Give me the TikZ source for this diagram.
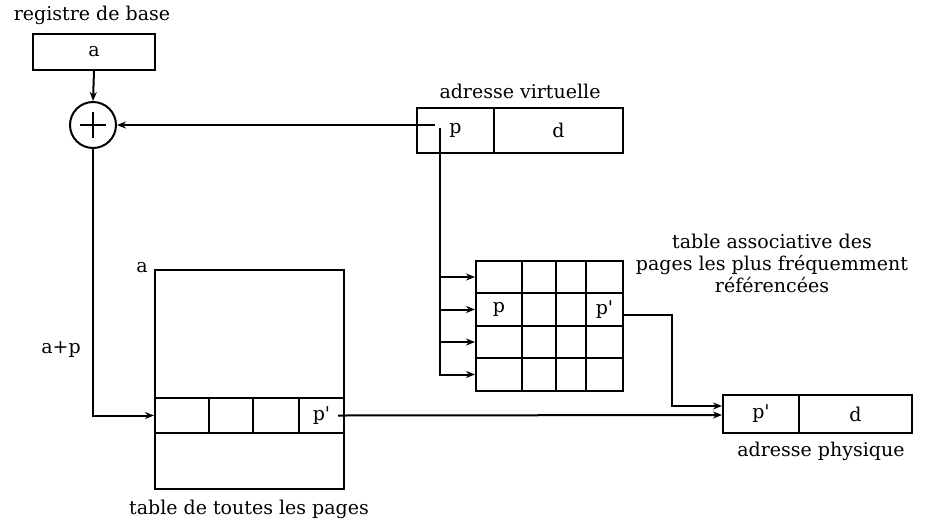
\documentclass[tikz,border=0pt]{standalone}
\usepackage{fontspec}
\setmainfont{DejaVu Serif}
\usetikzlibrary{arrows.meta,calc}
\begin{document}
\begin{tikzpicture}[x=1pt,y=-1pt,
  lw/.style={line width=2pt},
  arr/.style={line width=2pt,-{Stealth[length=9pt,width=7pt]}},
  cell/.style={draw,line width=2pt,rectangle,inner sep=0pt},
  txt/.style={inner sep=0pt,font=\fontsize{19}{22}\selectfont}]
\useasboundingbox (0,0) rectangle (936,523);
% base register
\node[txt] (lrb) at (92,15) {registre de base};
\node[cell,txt,minimum width=122pt,minimum height=36pt] (rb) at (94,52) {a};
\node[draw,lw,circle,minimum size=46pt,inner sep=0pt] (plus) at (93,125) {};
\draw[lw] ($(plus.center)+(-13,0)$) -- ($(plus.center)+(13,0)$);
\draw[lw] ($(plus.center)+(0,-13)$) -- ($(plus.center)+(0,13)$);
\draw[arr] (rb.south) -- (plus.north);
% virtual address
\node[txt] (lva) at (520,91) {adresse virtuelle};
\node[cell,txt,minimum width=77pt,minimum height=45pt] (vp) at (455.5,130.5) {p};
\node[cell,txt,minimum width=129pt,minimum height=45pt] (vd) at (558.5,130.5) {d};
\coordinate (vpH) at (435,125);
\coordinate (vpV) at (440,128);
\draw[arr] (vpH) -- (plus.east);
% associative table
\foreach \c/\cx/\w in {1/499/46,2/539/34,3/571/30,4/604.5/37}
  \foreach \r/\cy in {1/277,2/309.5,3/342,4/374.5}
    \node[cell,minimum width=\w pt,minimum height=32.5pt] (a\r\c) at (\cx,\cy) {};
\node[txt] (ap) at (a21.center) {p};
\node[txt] (apq) at (a24.center) {p\textquotesingle};
\foreach \r in {1,2,3}
  \draw[arr] (vpV |- a\r1.west) -- (a\r1.west);
\draw[arr] (vpV) |- (a41.west);
\node[txt,align=center] (lat) at (772,263) {table associative des\\pages les plus fréquemment\\référencées};
% table of all pages
\node[cell,minimum width=189pt,minimum height=128pt] (tt) at (249.5,334) {};
\node[cell,minimum width=54pt,minimum height=35pt] (r1) at (182,415.5) {};
\node[cell,minimum width=44pt,minimum height=35pt] (r2) at (231,415.5) {};
\node[cell,minimum width=46pt,minimum height=35pt] (r3) at (276,415.5) {};
\node[cell,txt,minimum width=45pt,minimum height=35pt] (r4) at (321.5,415.5) {p\textquotesingle};
\node[cell,minimum width=189pt,minimum height=56pt] (tb) at (249.5,461) {};
\node[txt] (la) at (142,268) {a};
\node[txt] (lap) at (61,350) {a+p};
\node[txt] (ltt) at (249,509) {table de toutes les pages};
\draw[arr] (plus.south) |- (r1.west);
% physical address
\node[cell,txt,minimum width=76pt,minimum height=38pt] (pp) at (761,414) {p\textquotesingle};
\node[cell,txt,minimum width=113pt,minimum height=38pt] (pd) at (855.5,414) {d};
\node[txt] (lpa) at (821,451) {adresse physique};
\draw[arr] ($(r4.east)+(-7,0)$) -- ($(pp.west)+(0,1)$);
\draw[arr] ($(a24.east)+(0,5)$) -- ++(48,0) |- ($(pp.west)+(0,-8)$);
\end{tikzpicture}
\end{document}
